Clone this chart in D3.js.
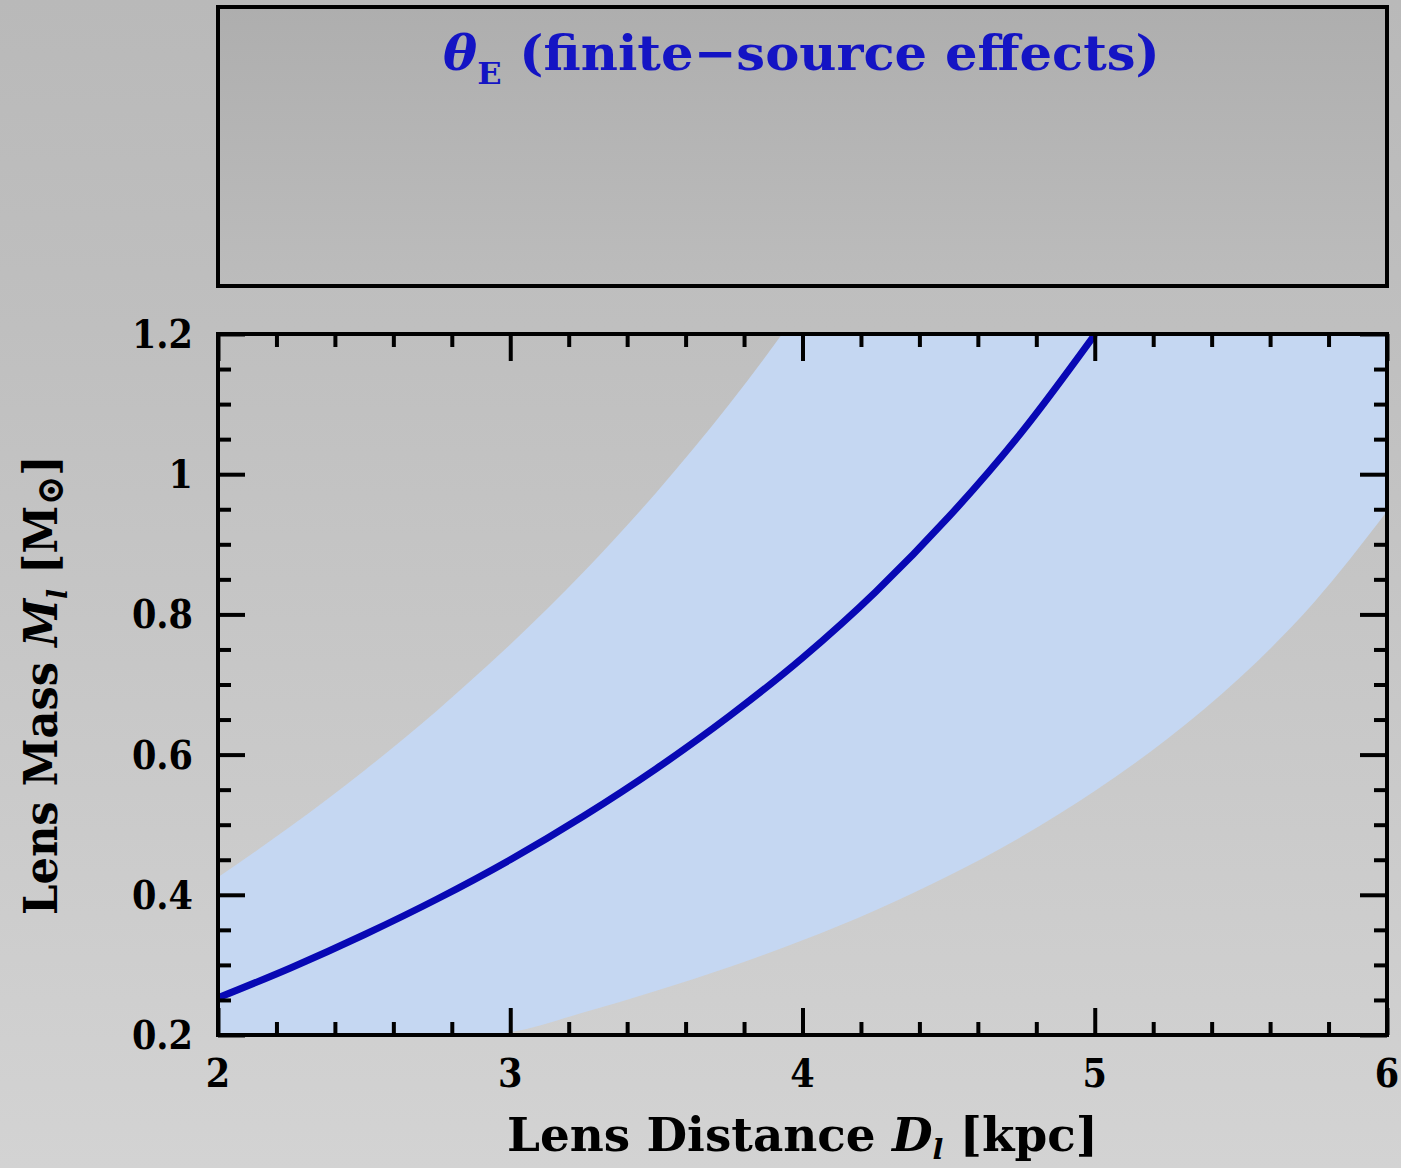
<!DOCTYPE html>
<html>
<head>
<meta charset="utf-8">
<script src="https://cdn.jsdelivr.net/npm/d3@7"></script>
<style>
  html, body { margin: 0; padding: 0; background: #c4c4c4; }
  svg { display: block; }
  text { font-family: 'DejaVu Serif Condensed', 'DejaVu Serif', serif; font-weight: bold; font-stretch: condensed; }
</style>
</head>
<body>
<svg id="chart" width="1401" height="1168"></svg>
<script>
// Axis ticks
const distTicks = [2, 3, 4, 5, 6];
const massTicks = [0.2, 0.4, 0.6, 0.8, 1, 1.2];

// Central Einstein-radius relation: lens mass vs lens distance
const curveD = [2.0, 2.25, 2.5, 2.75, 3.0, 3.25, 3.5, 3.75, 4.0, 4.25, 4.5, 4.75, 5.0];
const curveM = [0.253, 0.296, 0.343, 0.394, 0.450, 0.512, 0.580, 0.655, 0.738, 0.832, 0.939, 1.060, 1.199];

// Allowed band: upper and lower edges (points past the axis limits are clipped by the frame)
const bandD    = [2.0, 2.25, 2.5, 2.75, 2.925, 3.0, 3.25, 3.5, 3.75, 4.0, 4.25, 4.5, 4.75, 5.0, 5.25, 5.5, 5.75, 6.0];
const bandHigh = [0.425, 0.498, 0.577, 0.663, 0.728, 0.757, 0.860, 0.974, 1.100, 1.241, 1.399, 1.578, 1.6, 1.6, 1.6, 1.6, 1.6, 1.6];
const bandLow  = [0.2, 0.2, 0.2, 0.2, 0.2, 0.204, 0.232, 0.263, 0.297, 0.335, 0.378, 0.427, 0.483, 0.548, 0.623, 0.711, 0.817, 0.947];

const W = 1401, H = 1168;
const plot = { left: 218, right: 1387, top: 334, bottom: 1035 };
const topBox = { left: 218, right: 1387, top: 7, bottom: 286 };

const svg = d3.select('#chart');
const defs = svg.append('defs');

const bgGrad = defs.append('linearGradient').attr('id', 'bg').attr('x1', 0).attr('y1', 0).attr('x2', 0).attr('y2', 1);
bgGrad.append('stop').attr('offset', '0%').attr('stop-color', '#b9b9b9');
bgGrad.append('stop').attr('offset', '28%').attr('stop-color', '#bfbfbf');
bgGrad.append('stop').attr('offset', '100%').attr('stop-color', '#d3d3d3');

const boxGrad = defs.append('linearGradient').attr('id', 'boxbg').attr('x1', 0).attr('y1', 0).attr('x2', 0).attr('y2', 1);
boxGrad.append('stop').attr('offset', '0%').attr('stop-color', '#aeaeae');
boxGrad.append('stop').attr('offset', '100%').attr('stop-color', '#bcbcbc');

defs.append('clipPath').attr('id', 'plotclip')
  .append('rect')
  .attr('x', plot.left).attr('y', plot.top)
  .attr('width', plot.right - plot.left).attr('height', plot.bottom - plot.top);

svg.append('rect').attr('width', W).attr('height', H).attr('fill', 'url(#bg)');

// Title panel
svg.append('rect')
  .attr('x', topBox.left).attr('y', topBox.top)
  .attr('width', topBox.right - topBox.left).attr('height', topBox.bottom - topBox.top)
  .attr('fill', 'url(#boxbg)').attr('stroke', '#000').attr('stroke-width', 4);

const title = svg.append('text')
  .attr('x', 0).attr('y', 70)
  .attr('fill', '#1414c4').attr('font-size', 48);
title.append('tspan').attr('font-style', 'italic').text('θ');
title.append('tspan').attr('font-size', 30).attr('dy', 14).text('E');
title.append('tspan').attr('dy', -14).text(' (finite\u2212source effects)');

function fitBox(sel, x0, x1) {
  const bb = sel.node().getBBox();
  const s = (x1 - x0) / bb.width;
  sel.attr('transform', `translate(${x0},0) scale(${s},1) translate(${-bb.x},0)`);
}
fitBox(title, 443, 1160);

// Scales
const x = d3.scaleLinear().domain([2, 6]).range([plot.left, plot.right]);
const y = d3.scaleLinear().domain([0.2, 1.2]).range([plot.bottom, plot.top]);

const g = svg.append('g').attr('clip-path', 'url(#plotclip)');

const band = bandD.map((d, i) => ({ d, lo: bandLow[i], hi: bandHigh[i] }));
g.append('path')
  .datum(band)
  .attr('fill', '#c5d7f2')
  .attr('d', d3.area()
    .x(p => x(p.d))
    .y0(p => y(p.lo))
    .y1(p => y(p.hi))
    .curve(d3.curveMonotoneX));

const curve = curveD.map((d, i) => ({ d, m: curveM[i] }));
g.append('path')
  .datum(curve)
  .attr('fill', 'none')
  .attr('stroke', '#0808b4')
  .attr('stroke-width', 7)
  .attr('d', d3.line().x(p => x(p.d)).y(p => y(p.m)).curve(d3.curveMonotoneX));

// Ticks on all four sides, pointing inward
const majorLen = 27, minorLen = 13;
const xMinor = d3.range(2, 6.0001, 0.2).filter(v => Math.abs(v - Math.round(v)) > 1e-6);
const yMinor = d3.range(0.2, 1.2001, 0.05).filter(v => massTicks.every(t => Math.abs(t - v) > 1e-6));

const axB = svg.append('g').attr('transform', `translate(0,${plot.bottom})`)
  .call(d3.axisTop(x).tickValues(distTicks).tickSize(majorLen).tickFormat(''));
const axBm = svg.append('g').attr('transform', `translate(0,${plot.bottom})`)
  .call(d3.axisTop(x).tickValues(xMinor).tickSize(minorLen).tickFormat(''));
const axT = svg.append('g').attr('transform', `translate(0,${plot.top})`)
  .call(d3.axisBottom(x).tickValues(distTicks).tickSize(majorLen).tickFormat(''));
const axTm = svg.append('g').attr('transform', `translate(0,${plot.top})`)
  .call(d3.axisBottom(x).tickValues(xMinor).tickSize(minorLen).tickFormat(''));
const axL = svg.append('g').attr('transform', `translate(${plot.left},0)`)
  .call(d3.axisRight(y).tickValues(massTicks).tickSize(majorLen).tickFormat(''));
const axLm = svg.append('g').attr('transform', `translate(${plot.left},0)`)
  .call(d3.axisRight(y).tickValues(yMinor).tickSize(minorLen).tickFormat(''));
const axR = svg.append('g').attr('transform', `translate(${plot.right},0)`)
  .call(d3.axisLeft(y).tickValues(massTicks).tickSize(majorLen).tickFormat(''));
const axRm = svg.append('g').attr('transform', `translate(${plot.right},0)`)
  .call(d3.axisLeft(y).tickValues(yMinor).tickSize(minorLen).tickFormat(''));

[axB, axBm, axT, axTm, axL, axLm, axR, axRm].forEach(a => {
  a.select('.domain').remove();
  a.selectAll('.tick line').attr('stroke', '#000').attr('stroke-width', 4);
});

// Frame
svg.append('rect')
  .attr('x', plot.left).attr('y', plot.top)
  .attr('width', plot.right - plot.left).attr('height', plot.bottom - plot.top)
  .attr('fill', 'none').attr('stroke', '#000').attr('stroke-width', 4);

// Tick labels
svg.append('g').selectAll('text').data(distTicks).join('text')
  .attr('x', d => x(d)).attr('y', 1087)
  .attr('text-anchor', 'middle').attr('font-size', 39).attr('fill', '#000')
  .text(d => d);

svg.append('g').selectAll('text').data(massTicks).join('text')
  .attr('x', 193).attr('y', d => y(d) + 14)
  .attr('text-anchor', 'end').attr('font-size', 39).attr('fill', '#000')
  .text(d => d3.format('~g')(d));

// Axis titles
const xLab = svg.append('text').attr('y', 1151).attr('font-size', 46).attr('fill', '#000');
xLab.append('tspan').text('Lens Distance ');
xLab.append('tspan').attr('font-style', 'italic').text('D');
xLab.append('tspan').attr('font-style', 'italic').attr('font-size', 28).attr('dy', 8).text('l');
xLab.append('tspan').attr('dy', -8).text(' [kpc]');
fitBox(xLab, 507, 1098);

const yLabG = svg.append('g').attr('transform', 'translate(57,915) rotate(-90)');
const yLab = yLabG.append('text').attr('y', 0).attr('font-size', 46).attr('fill', '#000');
yLab.append('tspan').text('Lens Mass ');
yLab.append('tspan').attr('font-style', 'italic').text('M');
yLab.append('tspan').attr('font-style', 'italic').attr('font-size', 28).attr('dy', 10).text('l');
yLab.append('tspan').attr('dy', -10).text(' [M');
yLab.append('tspan').attr('font-size', 38).attr('dy', 6).text('\u2299');
yLab.append('tspan').attr('dy', -6).text(']');
fitBox(yLab, 0, 460);
</script>
</body>
</html>
